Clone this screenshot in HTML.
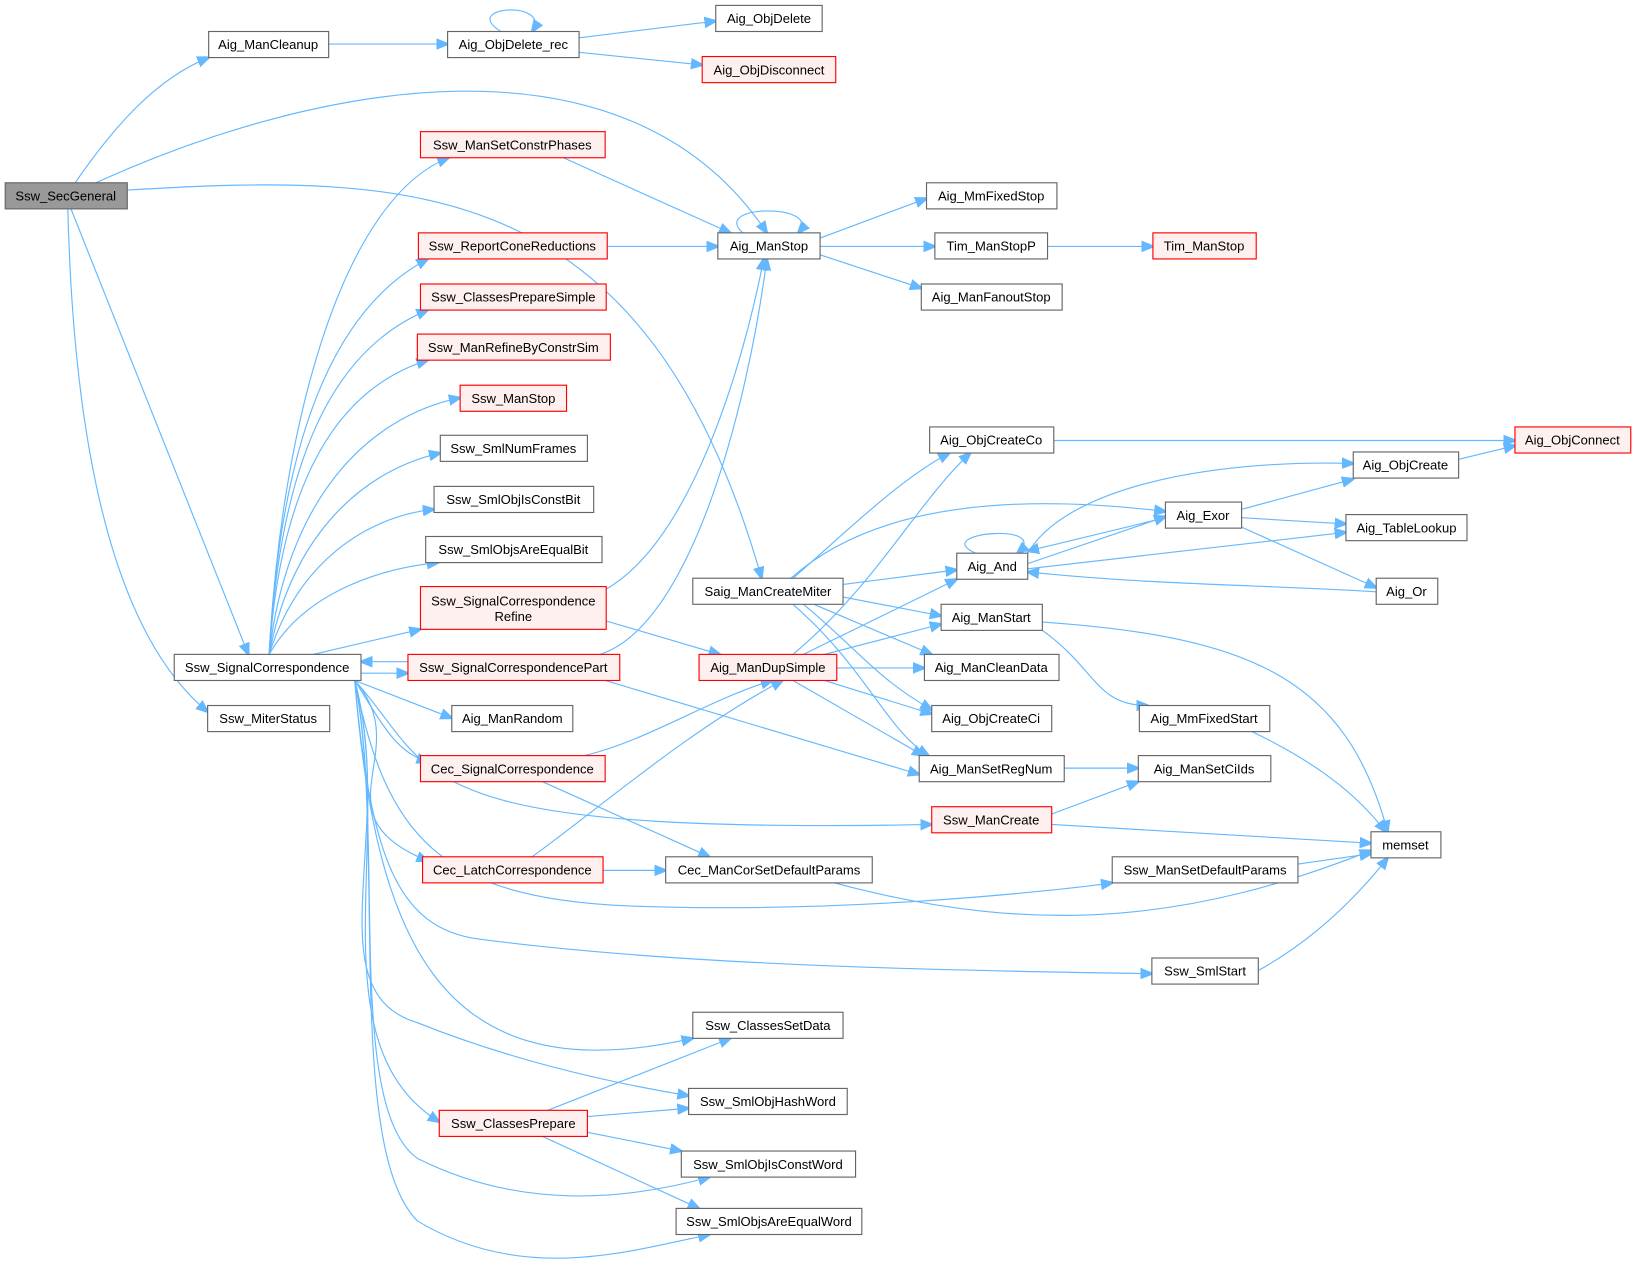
<!DOCTYPE html>
<html><head><meta charset="utf-8"><style>
html,body{margin:0;padding:0;background:#fff;}
svg{display:block;}
text{font-family:"Liberation Sans",Arial,sans-serif;font-size:12.5px;fill:#000;text-anchor:middle;}
.n{fill:#fff;stroke:#666;stroke-width:1.1;}
.r{fill:#fff0f0;stroke:#f00;stroke-width:1.1;}
.g{fill:#999;stroke:#666;stroke-width:1.1;}
path{fill:none;stroke:#63b8ff;stroke-width:1.1;}
</style></head><body>
<svg width="1636" height="1266" viewBox="0 0 1568 1213" xmlns="http://www.w3.org/2000/svg">
<defs><marker id="a" viewBox="0 0 10 10" refX="9" refY="5" markerWidth="12" markerHeight="12" markerUnits="userSpaceOnUse" orient="auto"><path d="M0,1 L10,5 L0,9 z" style="fill:#63b8ff;stroke:#63b8ff"/></marker></defs>
<g marker-end="url(#a)">
<path d="M72,175 C110,120 150,75 200,55"/>
<path d="M92,175 C300,80 600,20 735,223"/>
<path d="M122,182 C400,165 620,170 730,554"/>
<path d="M68,200 L238,627"/>
<path d="M65,200 C70,400 100,600 199,682"/>
<path d="M315,42 L429,42"/>
<path d="M480,30 C440,5 530,0 510,30"/>
<path d="M555,36 L686,20"/>
<path d="M555,50 L673,62"/>
<path d="M540,151 L700,223"/>
<path d="M582,236 L688,236"/>
<path d="M712,223 C680,195 790,195 765,223"/>
<path d="M786,228 L888,190"/>
<path d="M786,236 L896,236"/>
<path d="M1004,236 L1105,236"/>
<path d="M786,244 L883,276"/>
<path d="M580,565 C660,520 710,360 732,248"/>
<path d="M575,627 C660,600 715,400 735,248"/>
<path d="M258,627 C270,400 330,190 430,151"/>
<path d="M258,627 C270,400 330,290 410,248"/>
<path d="M258,627 C270,420 330,330 410,297"/>
<path d="M258,627 C270,450 330,370 410,345"/>
<path d="M258,627 C275,480 350,400 441,381"/>
<path d="M258,627 C280,510 350,450 422,434"/>
<path d="M258,627 C285,540 350,495 416,488"/>
<path d="M258,627 C290,570 360,545 420,539"/>
<path d="M300,627 L403,603"/>
<path d="M346,645 L391,645"/>
<path d="M391,634 L346,634"/>
<path d="M340,652 L433,688"/>
<path d="M340,652 C370,700 380,720 410,730"/>
<path d="M340,652 C400,720 300,780 410,825"/>
<path d="M340,652 C420,740 380,800 893,790"/>
<path d="M340,652 C370,800 420,860 600,868 C800,876 1000,855 1066,846"/>
<path d="M340,652 C355,820 380,890 460,900 C650,925 900,930 1104,933"/>
<path d="M340,652 C360,900 420,1050 664,995"/>
<path d="M340,652 C380,800 300,950 400,980 C500,1020 600,1040 660,1050"/>
<path d="M340,652 C380,800 300,1000 421,1075"/>
<path d="M340,652 C370,800 330,1060 400,1110 C500,1160 600,1150 680,1128"/>
<path d="M340,652 C370,800 330,1100 400,1170 C500,1230 600,1200 680,1183"/>
<path d="M581,595 L690,627"/>
<path d="M580,652 L881,742"/>
<path d="M560,724 C620,710 680,670 740,652"/>
<path d="M520,749 L680,821"/>
<path d="M510,821 C580,770 660,700 750,652"/>
<path d="M578,834 L638,834"/>
<path d="M800,846 C1000,900 1150,880 1314,815"/>
<path d="M525,1064 L700,995"/>
<path d="M563,1070 L660,1062"/>
<path d="M563,1085 L653,1103"/>
<path d="M520,1089 L670,1158"/>
<path d="M760,554 C800,520 860,460 910,434"/>
<path d="M758,554 C830,490 950,470 1117,490"/>
<path d="M808,560 L917,546"/>
<path d="M808,572 L902,590"/>
<path d="M780,579 L893,627"/>
<path d="M770,579 C820,620 840,650 893,680"/>
<path d="M760,579 C830,640 850,700 890,724"/>
<path d="M760,627 C840,560 880,480 930,434"/>
<path d="M770,627 L917,555"/>
<path d="M790,627 L902,598"/>
<path d="M802,640 L886,640"/>
<path d="M790,652 L893,684"/>
<path d="M760,652 L885,724"/>
<path d="M1010,422 L1452,422"/>
<path d="M1398,440 L1452,427"/>
<path d="M985,530 C1020,470 1150,440 1297,444"/>
<path d="M985,540 L1117,495"/>
<path d="M1117,496 L985,528"/>
<path d="M985,545 L1290,510"/>
<path d="M935,530 C890,510 1010,500 975,530"/>
<path d="M1190,488 L1297,459"/>
<path d="M1190,496 L1290,502"/>
<path d="M1190,505 L1319,563"/>
<path d="M1319,567 C1200,560 1100,560 985,548"/>
<path d="M999,596 C1200,610 1290,650 1330,797"/>
<path d="M999,604 C1050,640 1050,676 1100,676"/>
<path d="M1200,701 C1260,730 1300,760 1328,797"/>
<path d="M1020,736 L1091,736"/>
<path d="M1008,780 L1091,749"/>
<path d="M1008,790 L1314,808"/>
<path d="M1244,828 L1314,818"/>
<path d="M1206,930 C1260,900 1300,860 1330,822"/>
</g>
<rect class="g" x="5" y="175" width="117" height="25"/><text x="63" y="192">Ssw_SecGeneral</text>
<rect class="n" x="200" y="30" width="115" height="25"/><text x="257" y="47">Aig_ManCleanup</text>
<rect class="n" x="429" y="30" width="126" height="25"/><text x="492" y="47">Aig_ObjDelete_rec</text>
<rect class="n" x="686" y="5" width="102" height="25"/><text x="737" y="22">Aig_ObjDelete</text>
<rect class="r" x="673" y="54" width="128" height="25"/><text x="737" y="71">Aig_ObjDisconnect</text>
<rect class="r" x="403" y="126" width="177" height="25"/><text x="491" y="143">Ssw_ManSetConstrPhases</text>
<rect class="r" x="401" y="223" width="181" height="25"/><text x="491" y="240">Ssw_ReportConeReductions</text>
<rect class="r" x="403" y="272" width="178" height="25"/><text x="492" y="289">Ssw_ClassesPrepareSimple</text>
<rect class="r" x="400" y="320" width="185" height="25"/><text x="492" y="337">Ssw_ManRefineByConstrSim</text>
<rect class="r" x="441" y="369" width="102" height="25"/><text x="492" y="386">Ssw_ManStop</text>
<rect class="n" x="422" y="417" width="141" height="25"/><text x="492" y="434">Ssw_SmlNumFrames</text>
<rect class="n" x="416" y="466" width="153" height="25"/><text x="492" y="483">Ssw_SmlObjIsConstBit</text>
<rect class="n" x="408" y="514" width="169" height="25"/><text x="492" y="531">Ssw_SmlObjsAreEqualBit</text>
<rect class="r" x="403" y="562" width="178" height="41"/><text x="492" y="580">Ssw_SignalCorrespondence</text><text x="492" y="595">Refine</text>
<rect class="r" x="391" y="627" width="203" height="25"/><text x="492" y="644">Ssw_SignalCorrespondencePart</text>
<rect class="n" x="433" y="676" width="116" height="25"/><text x="491" y="693">Aig_ManRandom</text>
<rect class="r" x="403" y="724" width="177" height="25"/><text x="491" y="741">Cec_SignalCorrespondence</text>
<rect class="r" x="405" y="821" width="173" height="25"/><text x="491" y="838">Cec_LatchCorrespondence</text>
<rect class="r" x="421" y="1064" width="142" height="25"/><text x="492" y="1081">Ssw_ClassesPrepare</text>
<rect class="n" x="167" y="627" width="179" height="25"/><text x="256" y="644">Ssw_SignalCorrespondence</text>
<rect class="n" x="199" y="676" width="117" height="25"/><text x="257" y="693">Ssw_MiterStatus</text>
<rect class="n" x="688" y="223" width="98" height="25"/><text x="737" y="240">Aig_ManStop</text>
<rect class="n" x="888" y="175" width="125" height="25"/><text x="950" y="192">Aig_MmFixedStop</text>
<rect class="n" x="896" y="223" width="108" height="25"/><text x="950" y="240">Tim_ManStopP</text>
<rect class="r" x="1105" y="223" width="99" height="25"/><text x="1154" y="240">Tim_ManStop</text>
<rect class="n" x="883" y="272" width="135" height="25"/><text x="950" y="289">Aig_ManFanoutStop</text>
<rect class="n" x="891" y="409" width="119" height="25"/><text x="950" y="426">Aig_ObjCreateCo</text>
<rect class="r" x="1452" y="409" width="111" height="25"/><text x="1507" y="426">Aig_ObjConnect</text>
<rect class="n" x="1297" y="433" width="101" height="25"/><text x="1347" y="450">Aig_ObjCreate</text>
<rect class="n" x="1117" y="481" width="73" height="25"/><text x="1153" y="498">Aig_Exor</text>
<rect class="n" x="1290" y="493" width="116" height="25"/><text x="1348" y="510">Aig_TableLookup</text>
<rect class="n" x="917" y="530" width="68" height="25"/><text x="951" y="547">Aig_And</text>
<rect class="n" x="1319" y="554" width="59" height="25"/><text x="1348" y="571">Aig_Or</text>
<rect class="n" x="664" y="554" width="144" height="25"/><text x="736" y="571">Saig_ManCreateMiter</text>
<rect class="n" x="902" y="579" width="97" height="25"/><text x="950" y="596">Aig_ManStart</text>
<rect class="r" x="670" y="627" width="132" height="25"/><text x="736" y="644">Aig_ManDupSimple</text>
<rect class="n" x="886" y="627" width="129" height="25"/><text x="950" y="644">Aig_ManCleanData</text>
<rect class="n" x="893" y="676" width="115" height="25"/><text x="950" y="693">Aig_ObjCreateCi</text>
<rect class="n" x="1092" y="676" width="125" height="25"/><text x="1154" y="693">Aig_MmFixedStart</text>
<rect class="n" x="881" y="724" width="139" height="25"/><text x="950" y="741">Aig_ManSetRegNum</text>
<rect class="n" x="1091" y="724" width="127" height="25"/><text x="1154" y="741">Aig_ManSetCiIds</text>
<rect class="r" x="893" y="773" width="115" height="25"/><text x="950" y="790">Ssw_ManCreate</text>
<rect class="n" x="1314" y="797" width="67" height="25"/><text x="1347" y="814">memset</text>
<rect class="n" x="1066" y="821" width="178" height="25"/><text x="1155" y="838">Ssw_ManSetDefaultParams</text>
<rect class="n" x="638" y="821" width="198" height="25"/><text x="737" y="838">Cec_ManCorSetDefaultParams</text>
<rect class="n" x="1104" y="918" width="102" height="25"/><text x="1155" y="935">Ssw_SmlStart</text>
<rect class="n" x="664" y="970" width="144" height="25"/><text x="736" y="987">Ssw_ClassesSetData</text>
<rect class="n" x="660" y="1043" width="152" height="25"/><text x="736" y="1060">Ssw_SmlObjHashWord</text>
<rect class="n" x="653" y="1103" width="167" height="25"/><text x="736" y="1120">Ssw_SmlObjIsConstWord</text>
<rect class="n" x="648" y="1158" width="178" height="25"/><text x="737" y="1175">Ssw_SmlObjsAreEqualWord</text>
</svg>
</body></html>
